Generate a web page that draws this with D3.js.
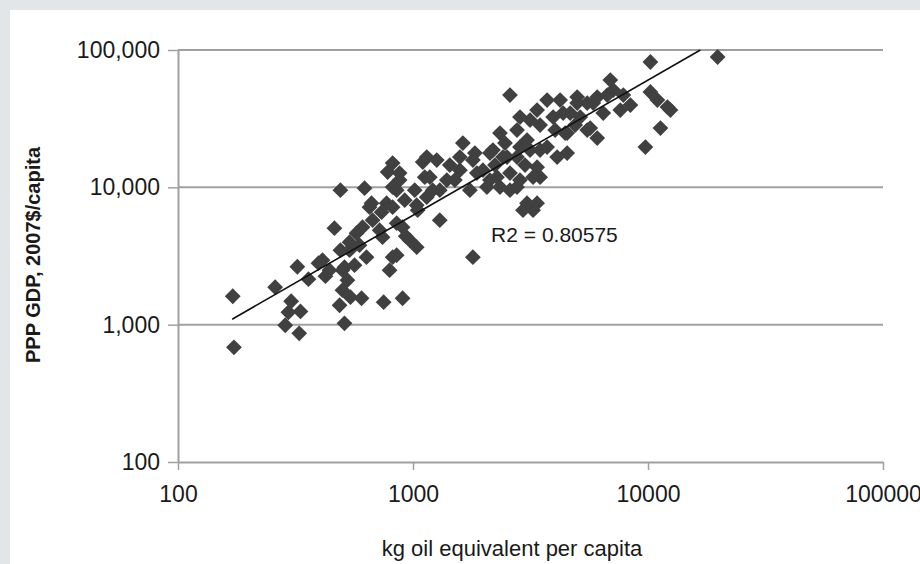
<!DOCTYPE html>
<html>
<head>
<meta charset="utf-8">
<script src="https://cdn.jsdelivr.net/npm/d3@7"></script>
<style>
  html, body { margin: 0; padding: 0; background: #e2e6e9; }
  svg { display: block; }
  text { font-family: "Liberation Sans", Arial, Helvetica, sans-serif; fill: #1a1a1a; }
</style>
</head>
<body>
<svg id="chart" width="920" height="564"></svg>
<script>
// Energy use (kg oil equivalent per capita) per country
const energy = [171,173,259,322,396,424,359,303,295,332,286,328,511,491,622,463,491,501,526,501,
  542,604,750,903,634,795,852,673,653,772,852,877,742,903,968,1047,1037,575,537,610,
  819,780,877,1100,1262,1122,819,666,735,819,852,931,819,511,412,537,1037,1213,1144,1179,
  1300,1144,1583,1834,1984,2188,2512,2853,3148,2277,2063,2586,2853,3243,1393,1583,1300,1798,2938,3243,
  1630,2586,3721,4227,4996,5512,6081,3373,3948,4665,5146,5512,4529,3721,4529,4106,3373,3474,2771,2853,
  2344,3057,2125,2415,2771,2771,2125,2344,3057,3373,1870,1798,10237,19780,6912,7118,7852,8414,10237,10965,
  12100,12460,11295,9748,5848,6450,5677,6081,4996,4355,4441,
  3474,4025,3148,2463,2232,2998,2586,4898,6710,1507,1434,1017,922,721,592,441,564,487,7624,3474,1746];
// PPP GDP, 2007$ per capita
const gdp = [1611,684,1874,2642,2803,2254,2143,1481,1231,1249,990,865,1023,9541,9867,5041,3485,2492,2107,1782,
  1585,1557,1457,1557,3099,2492,3206,5768,7173,7668,9541,12690,4335,5128,4123,6823,3665,4637,3988,5128,
  15011,12905,11288,15265,15790,11866,10035,7668,6595,7173,5483,4409,3099,2620,2948,3485,7418,9541,16596,11866,
  9541,8482,16596,17758,13343,18668,16596,19634,18668,11866,10035,12690,11288,11866,11288,13343,5768,3099,6823,6823,
  21000,46990,43200,43200,45430,41090,45430,36530,32480,34740,32480,26120,24830,19634,17758,16596,14030,11866,26120,32480,
  24830,22080,17758,16596,16596,10035,11288,10035,7668,7668,12690,15790,81740,88920,60440,51100,46990,39720,49430,43200,
  38420,36530,27010,19634,41090,34740,27010,22830,41090,34740,24830,
  28400,26120,30900,21000,14520,14520,9541,28400,46990,11288,14520,9541,8066,4875,3792,2492,2710,1385,36530,18668,9541];

// Power-law trend line end points
const trendX = [170, 16700];
const trendY = [1095, 100000];
const r2Label = "R2 = 0.80575";
const r2Pos = [2150, 4000];

const xTicks = [100, 1000, 10000, 100000];
const yTicks = [100, 1000, 10000, 100000];
const xTitle = "kg oil equivalent per capita";
const yTitle = "PPP GDP, 2007$/capita";

const svg = d3.select("#chart");

// white panel
svg.append("rect").attr("x", 10).attr("y", 10).attr("width", 910).attr("height", 554).attr("fill", "#ffffff");

const x = d3.scaleLog().domain([100, 100000]).range([178, 883]);
const y = d3.scaleLog().domain([100, 100000]).range([462, 50]);

const gridColor = "#a0a0a0";

// gridlines
svg.append("g").selectAll("line")
  .data(yTicks.filter(t => t > 100))
  .join("line")
  .attr("x1", x(100)).attr("x2", x(100000))
  .attr("y1", d => y(d)).attr("y2", d => y(d))
  .attr("stroke", gridColor).attr("stroke-width", 2);

// axes
const xAxis = svg.append("g")
  .attr("transform", `translate(0,${y(100)})`)
  .call(d3.axisBottom(x).tickValues(xTicks).tickFormat(d => String(d)).tickSize(8).tickSizeOuter(0).tickPadding(16));
const yAxis = svg.append("g")
  .attr("transform", `translate(${x(100)},0)`)
  .call(d3.axisLeft(y).tickValues(yTicks).tickFormat(d3.format(",")).tickSize(10).tickSizeOuter(0).tickPadding(8));

[xAxis, yAxis].forEach(g => {
  g.select(".domain").attr("stroke", gridColor).attr("stroke-width", 2);
  g.selectAll(".tick line").attr("stroke", gridColor).attr("stroke-width", 1.5);
  g.selectAll(".tick text").attr("font-size", 23).attr("fill", "#1a1a1a")
    .attr("font-family", "'Liberation Sans', Arial, sans-serif");
});
xAxis.selectAll(".tick text").attr("dy", "0.71em");

// points
const pts = energy.map((e, i) => [e, gdp[i]]);
svg.append("g").selectAll("path")
  .data(pts)
  .join("path")
  .attr("d", d3.symbol(d3.symbolSquare, 125))
  .attr("transform", d => `translate(${x(d[0])},${y(d[1])}) rotate(45)`)
  .attr("fill", "#404040");

// trend line
svg.append("line")
  .attr("x1", x(trendX[0])).attr("y1", y(trendY[0]))
  .attr("x2", x(trendX[1])).attr("y2", y(trendY[1]))
  .attr("stroke", "#111").attr("stroke-width", 1.6);

// R2 label
svg.append("text")
  .attr("x", x(r2Pos[0])).attr("y", y(r2Pos[1]))
  .attr("font-size", 21)
  .text(r2Label);

// axis titles
svg.append("text")
  .attr("x", 512).attr("y", 556)
  .attr("text-anchor", "middle")
  .attr("font-size", 22)
  .text(xTitle);

svg.append("text")
  .attr("transform", "translate(40,255) rotate(-90)")
  .attr("text-anchor", "middle")
  .attr("font-size", 20)
  .attr("font-weight", "bold")
  .text(yTitle);
</script>
</body>
</html>
